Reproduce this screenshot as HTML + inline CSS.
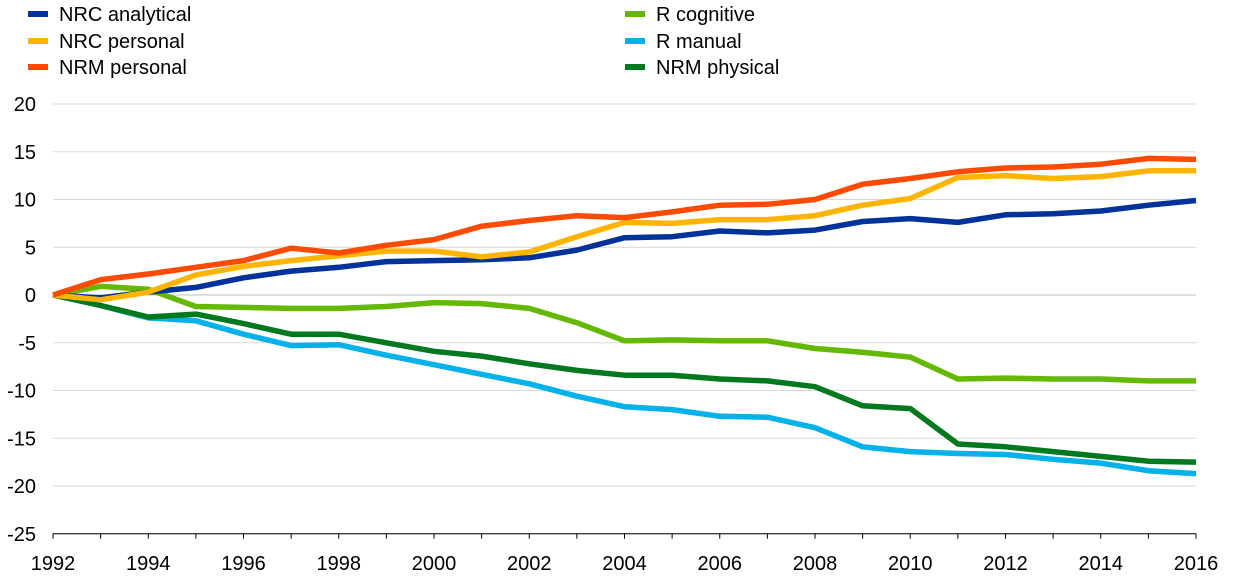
<!DOCTYPE html>
<html><head><meta charset="utf-8"><style>
body{margin:0;background:#fff;width:1240px;height:578px;overflow:hidden}
svg{display:block;font-family:"Liberation Sans",Arial,sans-serif}
</style></head><body>
<svg id="c" width="1240" height="578" xmlns="http://www.w3.org/2000/svg"></svg>
<script>
var s=document.getElementById('c'),h='';
function X(i){return 53+i*47.625}
function Y(v){return 295-v*9.55}
for(var v=20;v>=-25;v-=5){var y=Y(v);
 h+='<line x1="53" x2="1196" y1="'+y+'" y2="'+y+'" stroke="'+(v==0?'#bfbfbf':'#d9d9d9')+'" stroke-width="1"/>';
 h+='<text x="36" y="'+(y+7)+'" font-size="20" text-anchor="end" fill="#000">'+v+'</text>';}
h+='<line x1="53" x2="1196" y1="'+Y(-25)+'" y2="'+Y(-25)+'" stroke="#000" stroke-width="1"/>';
for(var i=0;i<=24;i++){h+='<line x1="'+X(i)+'" x2="'+X(i)+'" y1="'+Y(-25)+'" y2="'+(Y(-25)+5)+'" stroke="#000"/>';
 if(i%2==0)h+='<text x="'+X(i)+'" y="570" font-size="20" text-anchor="middle">'+(1992+i)+'</text>';}
var S=[
["#65b800",[0,0.9,0.6,-1.2,-1.3,-1.4,-1.4,-1.2,-0.8,-0.9,-1.4,-2.9,-4.8,-4.7,-4.8,-4.8,-5.6,-6.0,-6.5,-8.8,-8.7,-8.8,-8.8,-9.0,-9.0]],
["#00b1ea",[0,-1.1,-2.4,-2.7,-4.1,-5.3,-5.2,-6.3,-7.3,-8.3,-9.3,-10.6,-11.7,-12.0,-12.7,-12.8,-13.9,-15.9,-16.4,-16.6,-16.7,-17.2,-17.6,-18.4,-18.7]],
["#00781e",[0,-1.1,-2.3,-2.0,-3.0,-4.1,-4.1,-5.0,-5.9,-6.4,-7.2,-7.9,-8.4,-8.4,-8.8,-9.0,-9.6,-11.6,-11.9,-15.6,-15.9,-16.4,-16.9,-17.4,-17.5]],
["#003299",[0,-0.3,0.3,0.8,1.8,2.5,2.9,3.5,3.6,3.7,3.9,4.7,6.0,6.1,6.7,6.5,6.8,7.7,8.0,7.6,8.4,8.5,8.8,9.4,9.9]],
["#ffb400",[0,-0.5,0.3,2.1,3.0,3.6,4.1,4.6,4.6,4.0,4.5,6.1,7.6,7.5,7.9,7.9,8.3,9.4,10.1,12.3,12.5,12.2,12.4,13.0,13.0]],
["#ff4b00",[0,1.6,2.2,2.9,3.6,4.9,4.4,5.2,5.8,7.2,7.8,8.3,8.1,8.7,9.4,9.5,10.0,11.6,12.2,12.9,13.3,13.4,13.7,14.3,14.2]]];
S.forEach(function(q){var p=q[1].map(function(v,i){return X(i).toFixed(1)+','+Y(v).toFixed(1)}).join(' ');
 h+='<polyline points="'+p+'" fill="none" stroke="'+q[0]+'" stroke-width="5.5" stroke-linejoin="round"/>';});
var L=[["#003299","NRC analytical",28,14],["#ffb400","NRC personal",28,41],["#ff4b00","NRM personal",28,67],
["#65b800","R cognitive",625,14],["#00b1ea","R manual",625,41],["#00781e","NRM physical",625,67]];
L.forEach(function(l){h+='<rect x="'+l[2]+'" y="'+(l[3]-3)+'" width="20" height="6" fill="'+l[0]+'"/>';
 h+='<text x="'+(l[2]+31)+'" y="'+(l[3]+7)+'" font-size="20">'+l[1]+'</text>';});
s.innerHTML=h;
</script>
</body></html>
